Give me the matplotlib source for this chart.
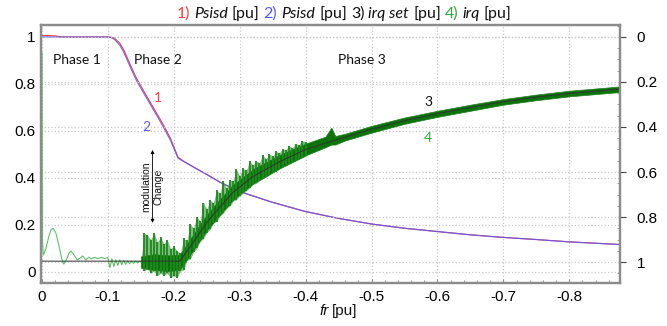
import numpy as np
import matplotlib
matplotlib.use('Agg')
import matplotlib.pyplot as plt
from matplotlib.ticker import MultipleLocator
from matplotlib.transforms import IdentityTransform

plt.rcParams['axes.unicode_minus'] = False
plt.rcParams['font.family'] = ['Liberation Sans', 'DejaVu Sans']

# ---- data (fr in pu, x axis runs from 0 to -0.88) ----
# Psisd, left axis
psi_fr = [0.0, -0.02, -0.03, -0.10, -0.105, -0.11, -0.118, -0.125, -0.132, -0.138, -0.143,
          -0.155, -0.17, -0.184, -0.195, -0.2065, -0.215, -0.234, -0.25, -0.27, -0.29,
          -0.31, -0.35, -0.40, -0.45, -0.50, -0.55, -0.60, -0.65, -0.70, -0.75, -0.80, -0.876]
psi_blue = [1.0, 1.0, 1.0, 1.0, 0.998, 0.99, 0.966, 0.93, 0.885, 0.847, 0.817,
            0.758, 0.686, 0.618, 0.56, 0.484, 0.47, 0.44, 0.415, 0.382, 0.355,
            0.333, 0.296, 0.257, 0.228, 0.204, 0.186, 0.172, 0.158, 0.147, 0.138, 0.128, 0.117]
psi_red = [1.006, 1.005, 1.0, 1.0, 0.999, 0.995, 0.974, 0.94, 0.895, 0.857, 0.826,
           0.767, 0.695, 0.627, 0.568, 0.488, 0.471, 0.44, 0.415, 0.382, 0.355,
           0.333, 0.296, 0.257, 0.228, 0.204, 0.186, 0.172, 0.158, 0.147, 0.138, 0.128, 0.117]

# irq set, right axis (inverted)
set_fr = [0.0, -0.209, -0.23, -0.25, -0.27, -0.29, -0.32, -0.36, -0.40, -0.44,
          -0.50, -0.55, -0.60, -0.65, -0.70, -0.75, -0.80, -0.876]
irq_set = [0.996, 0.996, 0.91, 0.825, 0.755, 0.69, 0.62, 0.555, 0.50, 0.463,
           0.41, 0.372, 0.341, 0.314, 0.288, 0.268, 0.251, 0.232]

# irq, phase 1 (thin trace), right axis
irq1_fr = [0.0, -0.0003, -0.0006, -0.002, -0.006, -0.010, -0.014, -0.017, -0.021, -0.026,
           -0.030, -0.033, -0.037, -0.041, -0.044, -0.049, -0.0535, -0.058, -0.0617, -0.0667,
           -0.071, -0.075, -0.080, -0.085, -0.090, -0.095, -0.100, -0.103, -0.106, -0.109,
           -0.112, -0.115, -0.118, -0.121, -0.124, -0.127, -0.130, -0.133, -0.136, -0.139,
           -0.142, -0.145, -0.148, -0.150]
irq1 = [0.07, 0.55, 0.90, 0.969, 0.94, 0.89, 0.855, 0.85, 0.87, 0.93,
        0.985, 1.009, 0.99, 0.96, 0.951, 0.97, 0.991, 0.982, 0.973, 0.991,
        0.978, 0.986, 0.979, 0.985, 0.979, 0.984, 0.98, 1.025, 0.985, 1.02,
        0.99, 1.015, 0.99, 1.012, 0.992, 1.01, 0.994, 1.008, 0.995, 1.006,
        0.996, 1.004, 0.997, 1.0]

# irq, noisy part: spike extremes, right axis
spike_fr = [-0.150, -0.155, -0.160, -0.165, -0.170, -0.175, -0.180, -0.185, -0.190, -0.195,
            -0.200, -0.205, -0.210,
            -0.215, -0.220, -0.225, -0.230, -0.235, -0.240, -0.245, -0.250, -0.255, -0.260,
            -0.265, -0.270, -0.275, -0.280, -0.285, -0.290, -0.295, -0.300, -0.305, -0.310,
            -0.315, -0.320, -0.325, -0.330, -0.335, -0.340, -0.345, -0.350, -0.355, -0.360,
            -0.365, -0.370, -0.375, -0.380, -0.385, -0.390, -0.395, -0.400]
spike_top = [1.00, 0.87, 0.88, 0.90, 0.87, 0.91, 0.89, 0.92, 0.90, 0.94,
             0.93, 0.95, 0.96,
             0.895, 0.903, 0.832, 0.850, 0.799, 0.818, 0.736, 0.765, 0.725, 0.737,
             0.680, 0.695, 0.639, 0.672, 0.636, 0.640, 0.588, 0.616, 0.584, 0.593,
             0.551, 0.570, 0.551, 0.558, 0.525, 0.542, 0.519, 0.531, 0.508, 0.515,
             0.498, 0.501, 0.484, 0.492, 0.475, 0.478, 0.462, 0.465]
spike_bot = [1.00, 1.04, 1.03, 1.05, 1.04, 1.06, 1.05, 1.06, 1.05, 1.07,
             1.06, 1.07, 1.04,
             1.035, 0.993, 0.987, 0.955, 0.939, 0.908, 0.896, 0.870, 0.855, 0.827,
             0.820, 0.795, 0.784, 0.762, 0.751, 0.730, 0.723, 0.706, 0.694, 0.683,
             0.671, 0.655, 0.651, 0.638, 0.630, 0.622, 0.614, 0.601, 0.598, 0.585,
             0.578, 0.571, 0.564, 0.557, 0.550, 0.543, 0.537, 0.530]

# irq, dense core of the trace, right axis
core_fr = [-0.150, -0.170, -0.190, -0.209, -0.23, -0.25, -0.27, -0.29, -0.32, -0.36,
           -0.40, -0.43, -0.439, -0.445, -0.46, -0.50, -0.55, -0.60, -0.65, -0.70,
           -0.75, -0.80, -0.876]
core_top = [0.975, 0.965, 0.97, 0.968, 0.875, 0.79, 0.72, 0.657, 0.588, 0.525,
            0.474, 0.443, 0.403, 0.44, 0.43, 0.395, 0.358, 0.328, 0.301, 0.276,
            0.256, 0.239, 0.220]
core_bot = [1.025, 1.035, 1.04, 1.035, 0.945, 0.86, 0.79, 0.723, 0.652, 0.585,
            0.526, 0.49, 0.478, 0.478, 0.46, 0.425, 0.386, 0.355, 0.328, 0.301,
            0.281, 0.264, 0.245]

x_ticks = [0, -0.1, -0.2, -0.3, -0.4, -0.5, -0.6, -0.7, -0.8]
y_ticks = [0, 0.2, 0.4, 0.6, 0.8, 1]

RED = '#ff3b3b'
BLUE = '#5858f0'
GREEN = '#2eaa3a'
DKGREEN = '#0b740b'
SPINE = '#8c8c8c'
GRID = '#c8c8c8'

fig = plt.figure(figsize=(6.67, 3.26), dpi=100)
ax = fig.add_axes([41 / 667, 43 / 326, 579 / 667, 258 / 326])
ax2 = ax.twinx()

ax.set_xlim(0.0015, -0.877)
ax.set_ylim(-0.047, 1.051)
ax2.set_ylim(1.093, -0.053)

# grid
ax.grid(True, color=GRID, linestyle=':', linewidth=0.9)
ax2.grid(True, axis='y', color=GRID, linestyle=':', linewidth=0.9)
ax.set_axisbelow(True)
ax2.set_axisbelow(True)

# Psisd
ax.plot(psi_fr, psi_red, color=RED, lw=0.8)
ax.plot(psi_fr, psi_blue, color=BLUE, lw=0.9, alpha=0.85)

# irq
ax2.plot(irq1_fr, irq1, color=GREEN, lw=0.8, alpha=0.75)
ax2.fill_between(spike_fr, spike_top, spike_bot, color='#3c9c3c', alpha=0.65, lw=0)
ax2.vlines(spike_fr, spike_top, spike_bot, color='#1f881f', lw=1.3)
ax2.fill_between(core_fr, core_top, core_bot, color=DKGREEN, lw=0.5, edgecolor='#1d7d1d')
ax2.plot(set_fr, irq_set, color='#333333', lw=0.8, alpha=0.9)

# axes styling
for a in (ax, ax2):
    for s in a.spines.values():
        s.set_color(SPINE)
        s.set_linewidth(1.6)

ax.set_xticks(x_ticks)
ax.set_xticklabels(['0' if v == 0 else f'{v:.1f}' for v in x_ticks])
ax.xaxis.set_minor_locator(MultipleLocator(0.02))
ax.tick_params(axis='x', which='major', direction='in', length=3, color=SPINE,
               labelsize=11, pad=5)
ax.tick_params(axis='x', which='minor', direction='in', length=2, color=SPINE)
ax.set_yticks(y_ticks)
ax.set_yticklabels(['0', '0.2', '0.4', '0.6', '0.8', '1'])
ax.tick_params(axis='y', length=0, labelsize=11, pad=4)

ax2.set_yticks(y_ticks)
ax2.set_yticklabels(['0', '0.2', '0.4', '0.6', '0.8', '1'])
ax2.yaxis.set_minor_locator(MultipleLocator(0.05))
ax2.tick_params(axis='y', which='major', direction='out', length=4, color='#444444',
                labelsize=11, pad=8)
ax2.tick_params(axis='y', which='minor', direction='in', length=2, color=SPINE)

# annotations
txt = dict(family=['Lato', 'DejaVu Sans'], fontsize=10)
ax.text(-0.053, 0.902, 'Phase 1', ha='center', va='center', color='#111111', **txt)
ax.text(-0.176, 0.902, 'Phase 2', ha='center', va='center', color='#111111', **txt)
ax.text(-0.486, 0.902, 'Phase 3', ha='center', va='center', color='#111111', **txt)
ax.text(-0.176, 0.74, '1', ha='center', va='center', color=RED, **txt)
ax.text(-0.159, 0.617, '2', ha='center', va='center', color=BLUE, **txt)
ax.text(-0.586, 0.723, '3', ha='center', va='center', color='#111111', **txt)
ax.text(-0.586, 0.57, '4', ha='center', va='center', color=GREEN, **txt)
ax.text(-0.168, 0.362, 'modulation\nChange', rotation=90, ha='center', va='center',
        fontsize=7.5, linespacing=1.25, color='#111111')
ax.annotate('', xy=(-0.1677, 0.519), xytext=(-0.1677, 0.209),
            arrowprops=dict(arrowstyle='<|-|>', color='black', lw=0.6,
                            mutation_scale=5, shrinkA=0, shrinkB=0))


def seq_text(parts, xc, yc, size, family, gap):
    # draw text pieces side by side, centred at pixel (xc, yc)
    renderer = fig.canvas.get_renderer()
    items = []
    for s, color, style in parts:
        t = fig.text(0, yc, s, color=color, style=style, fontsize=size, family=family,
                     va='center', ha='left', transform=IdentityTransform())
        w = t.get_window_extent(renderer).width
        items.append((t, w))
    total = sum(w for _, w in items) + gap * (len(items) - 1)
    x = xc - total / 2
    for t, w in items:
        t.set_x(x)
        x += w + gap


title_parts = [('1)', RED, 'normal'), ('Psisd', '#111111', 'italic'), ('[pu]', '#111111', 'normal'),
               ('2)', BLUE, 'normal'), ('Psisd', '#111111', 'italic'), ('[pu]', '#111111', 'normal'),
               ('3)', '#111111', 'normal'), ('irq set', '#111111', 'italic'), ('[pu]', '#111111', 'normal'),
               ('4)', GREEN, 'normal'), ('irq', '#111111', 'italic'), ('[pu]', '#111111', 'normal')]
seq_text(title_parts, 344, 326 - 14, 11.5, ['Lato', 'DejaVu Sans'], 4.0)
seq_text([('fr', '#111111', 'italic'), ('[pu]', '#111111', 'normal')], 338, 326 - 311,
         11, ['Liberation Sans', 'DejaVu Sans'], 3.0)

fig.savefig('out.png', dpi=100)
